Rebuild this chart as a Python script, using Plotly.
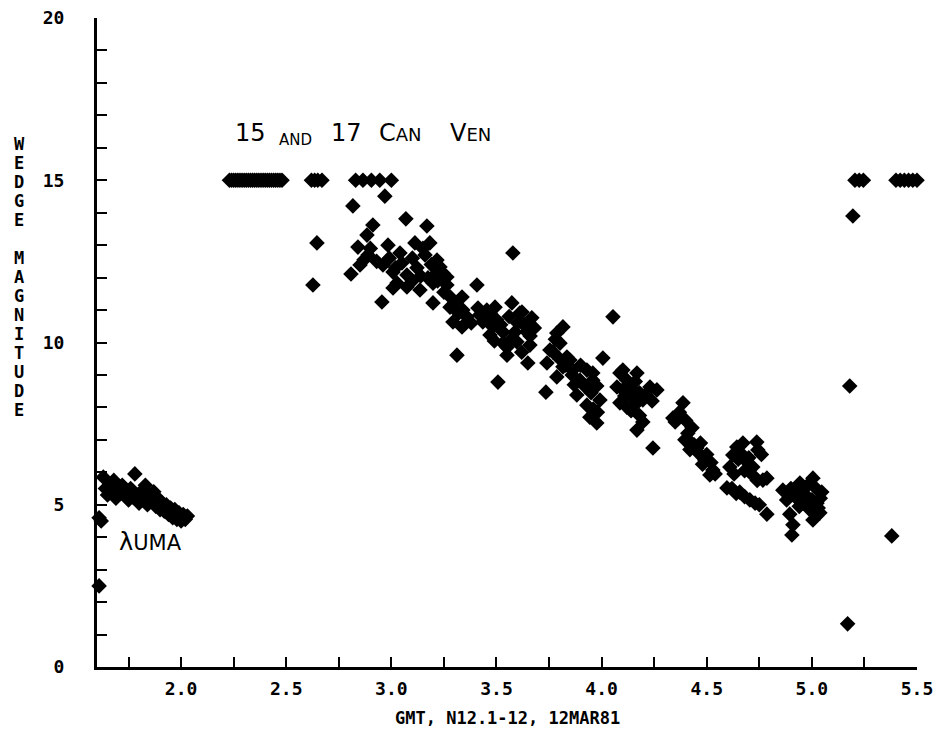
import plotly.graph_objects as go

# --- lambda UMa run (early part of the night) ---
uma_x = [1.61, 1.62, 1.61, 1.63, 1.64, 1.65, 1.66, 1.67, 1.68, 1.69, 1.70, 1.71,
         1.72, 1.73, 1.74, 1.75, 1.76, 1.77, 1.78, 1.79, 1.80, 1.81, 1.82, 1.83,
         1.84, 1.85, 1.86, 1.87, 1.88, 1.89, 1.90, 1.91, 1.92, 1.93, 1.94, 1.95,
         1.96, 1.97, 1.98, 1.99, 2.00, 2.01, 2.02, 2.03]
uma_y = [4.6, 4.5, 2.5, 5.85, 5.5, 5.3, 5.6, 5.4, 5.75, 5.2, 5.5, 5.35,
         5.6, 5.3, 5.45, 5.15, 5.5, 5.25, 5.95, 5.3, 5.05, 5.4, 5.15, 5.6,
         5.0, 5.3, 5.1, 5.4, 4.95, 5.2, 4.85, 5.05, 4.8, 5.0, 4.7, 4.9,
         4.6, 4.85, 4.55, 4.75, 4.5, 4.7, 4.55, 4.65]

# --- readings pegged at the wedge limit (15) ---
limit_x = [2.23, 2.24, 2.25, 2.26, 2.27, 2.28, 2.29, 2.30, 2.31, 2.32, 2.33, 2.34,
           2.35, 2.36, 2.37, 2.38, 2.39, 2.40, 2.41, 2.42, 2.43, 2.44, 2.45, 2.46,
           2.47, 2.48,
           2.62, 2.635, 2.65, 2.67,
           2.83, 2.865, 2.905, 2.945, 3.00,
           5.205, 5.225, 5.245,
           5.40, 5.42, 5.44, 5.46, 5.48, 5.50, 5.51]
limit_y = [15.0] * len(limit_x)

# --- 15 and 17 CVn run ---
cvn_x = [2.627, 2.646, 2.808, 2.817, 2.841, 2.851, 2.884, 2.889, 2.912, 2.955,
         2.960, 2.969, 2.984, 3.008, 3.008, 3.027, 3.041, 3.069, 3.074, 3.074,
         3.112, 3.122, 3.136, 3.160, 3.169, 3.174, 3.183, 3.198, 3.198, 3.217,
         3.231, 3.245, 3.264, 3.264, 3.279, 3.293, 3.312, 3.336, 3.336, 3.340,
         3.359, 3.407, 3.412, 3.435, 3.454, 3.454, 3.469, 3.483, 3.493, 3.507,
         3.531, 3.531, 3.550, 3.573, 3.578, 3.588, 3.597, 3.611, 3.621, 3.645,
         3.649, 3.659, 3.668, 3.735, 3.740, 3.754, 3.768, 3.787, 3.787, 3.802,
         3.816, 3.816, 3.835, 3.849, 3.863, 3.882, 3.897, 3.930, 3.930, 3.944,
         3.958, 3.958, 3.977, 3.977, 3.992, 4.006, 4.054, 4.073, 4.087, 4.087,
         4.101, 4.101, 4.120, 4.120, 4.149, 4.149, 4.168, 4.168, 4.168, 4.196,
         4.196, 4.230, 4.244, 4.263, 4.339, 4.387, 4.396, 4.430, 4.453, 4.491,
         4.515, 4.529, 4.596, 4.610, 4.624, 4.643, 4.657, 4.672, 4.691, 4.705,
         4.719, 4.738, 4.743, 4.767, 4.786, 4.786, 4.862, 4.881, 4.895, 4.905,
         4.910, 4.943, 4.957, 5.005, 5.005, 5.024, 5.038, 5.047,
         2.87, 2.90, 2.93, 2.99, 3.02, 3.05, 3.10, 3.10, 3.14, 3.15,
         3.19, 3.21, 3.22, 3.25, 3.28, 3.30, 3.32,
         3.38, 3.42, 3.47, 3.50, 3.52, 3.56, 3.60, 3.63, 3.66, 3.57,
         3.49, 3.55, 3.62, 3.68,
         3.78, 3.80, 3.83, 3.86, 3.90, 3.92, 3.95, 3.96, 3.98, 3.87,
         4.11, 4.13, 4.16, 4.18, 4.21, 4.14, 4.18, 4.24,
         4.35, 4.37, 4.40, 4.41, 4.42, 4.44, 4.46, 4.47, 4.50, 4.52,
         4.48, 4.54, 4.42,
         4.63, 4.65, 4.66, 4.68, 4.70, 4.72, 4.74, 4.76, 4.62, 4.64,
         4.68, 4.73, 4.75,
         4.88, 4.90, 4.92, 4.95, 4.97, 4.98, 5.00, 5.02, 5.04, 5.03,
         4.99, 4.94]
cvn_y = [11.77, 13.07, 12.11, 14.21, 12.94, 12.39, 13.31, 12.70, 13.62, 11.25,
         12.39, 14.51, 13.00, 12.17, 11.68, 11.83, 12.76, 13.81, 12.08, 11.71,
         13.07, 12.30, 11.62, 12.70, 13.59, 11.99, 13.07, 11.83, 11.22, 12.54,
         12.33, 12.14, 11.77, 12.02, 11.09, 10.63, 9.61, 11.40, 10.48, 11.00,
         10.79, 11.77, 11.06, 10.63, 11.00, 10.69, 10.23, 10.48, 11.09, 8.78,
         10.32, 9.98, 9.61, 11.22, 12.76, 10.32, 10.02, 10.91, 10.94, 10.32,
         9.37, 9.92, 10.76, 8.47, 9.37, 9.77, 9.71, 10.29, 8.94, 9.98,
         10.48, 9.25, 9.55, 9.46, 9.15, 8.38, 8.84, 9.15, 8.07, 7.70,
         8.84, 9.06, 8.66, 7.52, 8.23, 9.52, 10.79, 8.63, 9.06, 8.14,
         9.15, 8.54, 8.84, 8.01, 8.54, 8.29, 9.06, 8.14, 7.30, 8.23,
         7.55, 8.63, 6.75, 8.54, 7.67, 8.14, 7.00, 7.37, 6.75, 6.38,
         5.92, 6.07, 5.52, 6.16, 6.53, 6.78, 5.39, 6.90, 6.32, 5.15,
         6.16, 6.93, 6.69, 5.76, 5.82, 4.71, 5.45, 5.36, 4.71, 4.07,
         4.38, 5.67, 5.05, 5.82, 4.53, 5.05, 4.75, 5.39,
         12.55, 12.90, 12.50, 12.60, 12.30, 12.45, 12.60, 11.90, 12.05, 12.90,
         12.40, 12.10, 11.90, 11.55, 11.40, 11.20, 10.90,
         10.60, 10.85, 10.90, 10.70, 10.55, 10.80, 10.60, 10.55, 10.20, 10.10,
         10.05, 9.85, 9.70, 10.45,
         10.10, 9.50, 9.30, 9.00, 9.30, 8.65, 8.45, 7.95, 7.85, 8.70,
         8.35, 8.70, 8.80, 8.45, 8.40, 7.90, 7.75, 8.20,
         7.55, 7.85, 7.60, 7.20, 6.95, 6.85, 6.60, 6.90, 6.55, 6.30,
         6.25, 5.95, 6.70,
         5.95, 6.40, 6.60, 6.05, 6.45, 5.90, 5.75, 6.55, 5.50, 5.35,
         5.25, 5.05, 5.00,
         5.15, 5.50, 5.25, 5.45, 5.30, 5.60, 5.15, 5.50, 5.20, 4.90,
         4.85, 4.95]

# --- stray readings near the end of the night ---
stray_x = [5.195, 5.18, 5.38, 5.17]
stray_y = [13.9, 8.66, 4.04, 1.33]

x_range = [1.6, 5.5]
y_range = [0, 20]

mono = "DejaVu Sans Mono"
hand = "DejaVu Sans"

fig = go.Figure()
for xs, ys in [(uma_x, uma_y), (limit_x, limit_y), (cvn_x, cvn_y), (stray_x, stray_y)]:
    fig.add_trace(go.Scatter(
        x=xs, y=ys, mode="markers", cliponaxis=False, showlegend=False,
        marker=dict(symbol="diamond", size=12, color="black", line=dict(width=0)),
    ))

axis_common = dict(
    showgrid=False, zeroline=False, showline=True, linecolor="black", linewidth=3,
    ticks="inside", ticklen=10, tickwidth=2, tickcolor="black", automargin=False,
    ticklabeloverflow="allow",
    tickfont=dict(family=mono, size=18, color="black", weight="bold"),
)
fig.update_xaxes(range=x_range, dtick=0.5, tick0=0, tickformat=".1f",
                 minor=dict(dtick=0.25, ticks="inside", ticklen=10, tickwidth=2, tickcolor="black"),
                 ticklabelstandoff=3, **axis_common)
fig.update_yaxes(range=y_range, dtick=5, tick0=0,
                 minor=dict(dtick=1, ticks="inside", ticklen=10, tickwidth=2, tickcolor="black"),
                 ticklabelstandoff=26, **axis_common)

# Vertical, letter-stacked y-axis title (line pitch set by the base size,
# glyphs enlarged through the span)
y_title = "<br>".join("<span style='font-size:17px'>%s</span>" % ch if ch != " " else " "
                      for ch in "WEDGE MAGNITUDE")
fig.add_annotation(text=y_title, xref="paper", yref="paper", x=-0.094, y=0.601,
                   xanchor="center", yanchor="middle", showarrow=False,
                   font=dict(family=mono, size=14.6, color="black", weight="bold"))

fig.add_annotation(text="GMT, N12.1-12, 12MAR81", xref="paper", yref="paper",
                   x=0.5, y=-0.079, xanchor="center", yanchor="middle", showarrow=False,
                   font=dict(family=mono, size=17, color="black", weight="bold"))

# Hand-lettered star labels, word by word
label_words = [("15", 2.245, 16.45, 24),
               ("<span style='font-size:15px'>AND</span>", 2.455, 16.25, 15),
               ("17", 2.705, 16.45, 24),
               ("C<span style='font-size:18px'>AN</span>", 2.930, 16.45, 24),
               ("V<span style='font-size:18px'>EN</span>", 3.270, 16.45, 24)]
for txt, lx, ly, fs in label_words:
    fig.add_annotation(text=txt, x=lx, y=ly, xref="x", yref="y",
                       xanchor="left", yanchor="middle", showarrow=False,
                       font=dict(family=hand, size=fs, color="black"))

fig.add_annotation(
    text="λ<span style='font-size:21px'>UMA</span>",
    x=1.695, y=3.85, xref="x", yref="y", xanchor="left", yanchor="middle",
    showarrow=False, font=dict(family=hand, size=24, color="black"))

fig.update_layout(
    width=933, height=732,
    margin=dict(l=97, r=16, t=18, b=65, autoexpand=False),
    paper_bgcolor="white", plot_bgcolor="white",
)

fig.write_html("out.html")
